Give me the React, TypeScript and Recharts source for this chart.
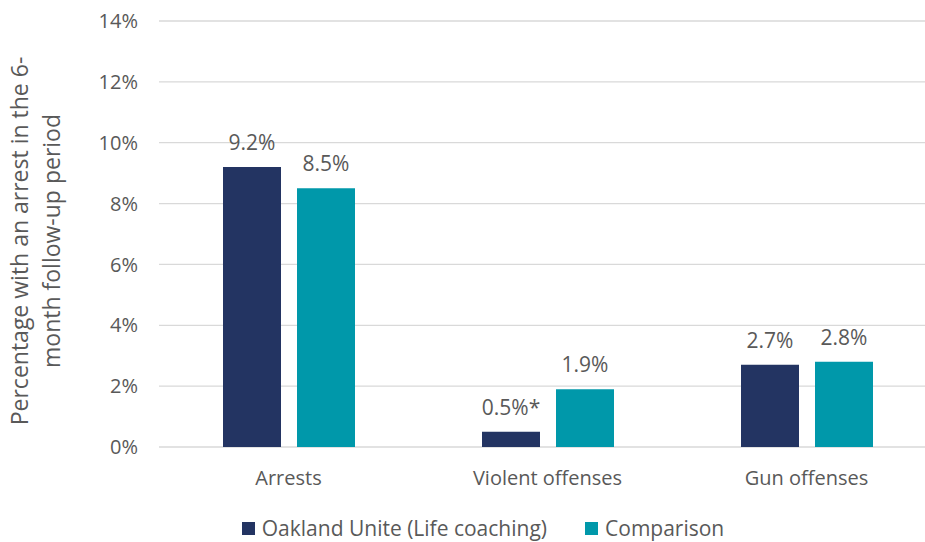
import React from 'react';
import { BarChart, Bar, XAxis, YAxis, CartesianGrid, Legend, LabelList } from 'recharts';

const categories = ['Arrests', 'Violent offenses', 'Gun offenses'];
const oaklandValues = [9.2, 0.5, 2.7];
const comparisonValues = [8.5, 1.9, 2.8];
const oaklandLabels = ['9.2%', '0.5%*', '2.7%'];
const comparisonLabels = ['8.5%', '1.9%', '2.8%'];
const yTicks = [0, 2, 4, 6, 8, 10, 12, 14];
const seriesNames = ['Oakland Unite (Life coaching)', 'Comparison'];

const NAVY = '#233462';
const TEAL = '#0098aa';
const TEXT = '#595959';
const FONT = '"Open Sans", "Noto Sans", sans-serif';
const seriesColors = [NAVY, TEAL];

const data = categories.map((name, i) => ({
  name,
  oakland: oaklandValues[i],
  comparison: comparisonValues[i],
  oaklandLabel: oaklandLabels[i],
  comparisonLabel: comparisonLabels[i],
}));

// two-line rotated axis title
const YTitle = () => (
  <text transform="translate(0, 241) rotate(-90)" textAnchor="middle" fill={TEXT} fontSize={23} fontFamily={FONT}>
    <tspan x={0} y={28}>Percentage with an arrest in the 6-</tspan>
    <tspan x={0} y={60}>month follow-up period</tspan>
  </text>
);

// legend kept in series order
const LegendContent = () => (
  <div style={{ display: 'flex', justifyContent: 'center', alignItems: 'center', fontFamily: FONT, fontSize: 21, lineHeight: '26px', color: TEXT }}>
    {seriesNames.map((n, i) => (
      <div key={n} style={{ display: 'flex', alignItems: 'center', marginRight: i === 0 ? 38 : 0 }}>
        <span style={{ display: 'inline-block', width: 13, height: 13, background: seriesColors[i], marginRight: 7 }} />
        <span>{n}</span>
      </div>
    ))}
  </div>
);

const App: React.FC = () => {
  return (
    <div style={{ position: 'absolute', left: 0, top: 0, width: 925, height: 542, overflow: 'hidden', background: '#fff' }}>
      <BarChart
        width={936}
        height={542}
        data={data}
        margin={{ top: 21, right: 0, left: 0, bottom: 29 }}
        barSize={58}
        barGap={16}
        style={{ fontFamily: FONT }}
      >
        <CartesianGrid vertical={false} stroke="#d9d9d9" strokeWidth={1.3} />
        <XAxis
          dataKey="name"
          axisLine={false}
          tickLine={false}
          tickMargin={18}
          height={40}
          tick={{ fill: TEXT, fontSize: 20, fontFamily: FONT }}
        />
        <YAxis
          width={159}
          domain={[0, 14]}
          ticks={yTicks}
          interval={0}
          axisLine={false}
          tickLine={false}
          tickMargin={15}
          tickFormatter={(v: number) => `${v}%`}
          tick={{ fill: TEXT, fontSize: 20, fontFamily: FONT }}
          label={<YTitle />}
        />
        <Legend
          verticalAlign="bottom"
          align="center"
          height={26}
          content={<LegendContent />}
          wrapperStyle={{ top: 515, bottom: 'auto', left: 0, width: 966 }}
        />
        <Bar dataKey="oakland" name={seriesNames[0]} fill={NAVY} isAnimationActive={false}>
          <LabelList dataKey="oaklandLabel" position="top" offset={17} fill={TEXT} fontSize={21} fontFamily={FONT} />
        </Bar>
        <Bar dataKey="comparison" name={seriesNames[1]} fill={TEAL} isAnimationActive={false}>
          <LabelList dataKey="comparisonLabel" position="top" offset={17} fill={TEXT} fontSize={21} fontFamily={FONT} />
        </Bar>
      </BarChart>
    </div>
  );
};

export default App;
